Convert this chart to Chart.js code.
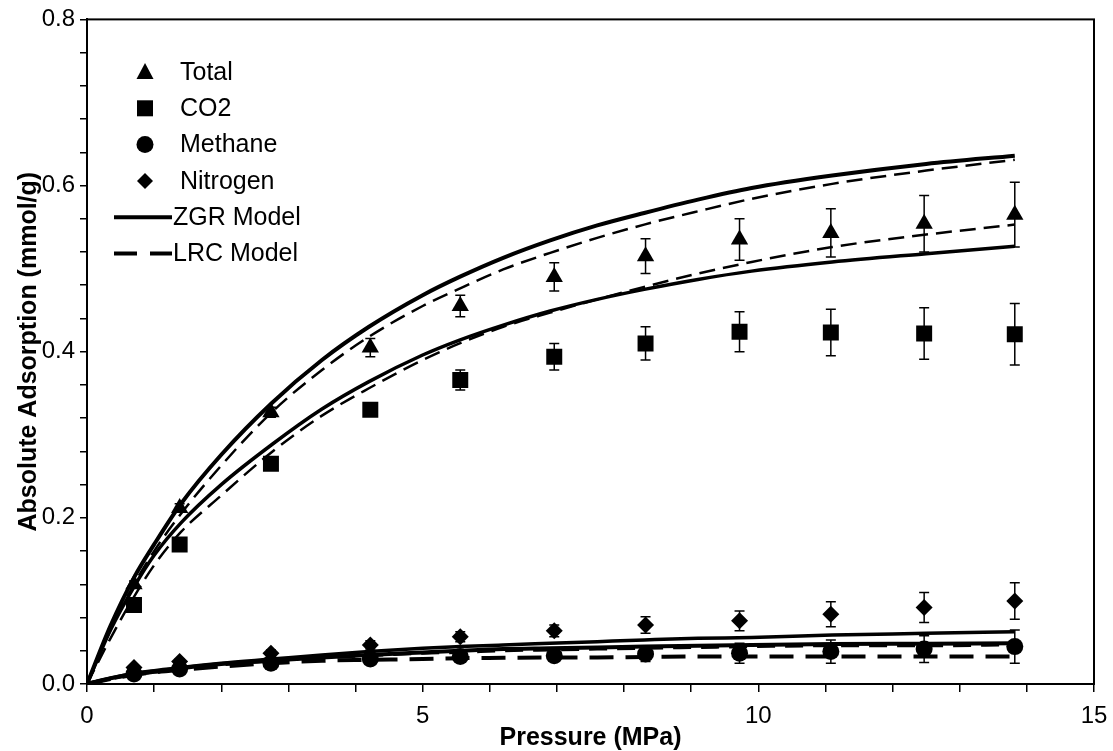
<!DOCTYPE html>
<html lang="en">
<head>
<meta charset="UTF-8">
<title>Absolute Adsorption</title>
<script src="https://cdn.jsdelivr.net/npm/chart.js@4.4.0/dist/chart.umd.min.js"></script>
<style>
    body { margin: 0; background: #fff; }
    #wrap { width: 1113px; height: 751px; }
</style>
</head>
<body>
<div id="wrap">
    <canvas id="adsChart" width="1113" height="751"></canvas>
</div>
<script>
    // measured points (pressure in MPa)
    const pressure = [0.7, 1.38, 2.74, 4.22, 5.56, 6.96, 8.32, 9.72, 11.08, 12.47, 13.82];
    const totalVals = [0.12, 0.212, 0.327, 0.405, 0.455, 0.49, 0.515, 0.535, 0.543, 0.554, 0.565];
    const totalErr = [0.004, 0.005, 0.006, 0.011, 0.013, 0.017, 0.021, 0.025, 0.029, 0.034, 0.039];
    const co2Vals = [0.095, 0.168, 0.265, 0.33, 0.366, 0.394, 0.41, 0.424, 0.423, 0.422, 0.421];
    const co2Err = [0.003, 0.004, 0.005, 0.006, 0.012, 0.016, 0.02, 0.024, 0.028, 0.031, 0.037];
    const methaneVals = [0.012, 0.018, 0.025, 0.03, 0.033, 0.034, 0.036, 0.037, 0.039, 0.042, 0.045];
    const methaneErr = [0.002, 0.002, 0.003, 0.004, 0.005, 0.006, 0.009, 0.012, 0.014, 0.016, 0.02];
    const nitrogenVals = [0.02, 0.027, 0.037, 0.047, 0.057, 0.064, 0.071, 0.076, 0.084, 0.092, 0.1];
    const nitrogenErr = [0.003, 0.003, 0.004, 0.005, 0.006, 0.007, 0.01, 0.012, 0.015, 0.018, 0.022];

    const modelP = [0, 0.35, 0.7, 1.0, 1.4, 2.0, 2.75, 3.5, 4.2, 5.0, 5.55, 6.2, 6.9, 7.6, 8.3, 9.1, 9.9, 11.1, 12.5, 13.82];
    const zgrTotal = [0, 0.07, 0.128, 0.168, 0.217, 0.276, 0.338, 0.39, 0.43, 0.468, 0.49, 0.513, 0.534, 0.552, 0.567, 0.583, 0.597, 0.612, 0.626, 0.636];
    const lrcTotal = [0, 0.065, 0.12, 0.16, 0.205, 0.263, 0.327, 0.378, 0.418, 0.455, 0.476, 0.499, 0.519, 0.537, 0.553, 0.569, 0.584, 0.602, 0.618, 0.631];
    const zgrCO2 = [0, 0.065, 0.117, 0.155, 0.194, 0.24, 0.288, 0.331, 0.364, 0.396, 0.414, 0.432, 0.449, 0.463, 0.475, 0.487, 0.497, 0.508, 0.518, 0.527];
    const lrcCO2 = [0, 0.055, 0.105, 0.143, 0.183, 0.227, 0.279, 0.323, 0.356, 0.39, 0.41, 0.43, 0.447, 0.463, 0.478, 0.494, 0.508, 0.526, 0.541, 0.553];
    const zgrN2 = [0, 0.007, 0.013, 0.016, 0.02, 0.025, 0.03, 0.035, 0.039, 0.043, 0.045, 0.047, 0.049, 0.051, 0.053, 0.055, 0.056, 0.059, 0.061, 0.063];
    const zgrCH4 = [0, 0.007, 0.012, 0.015, 0.019, 0.024, 0.028, 0.032, 0.035, 0.038, 0.04, 0.042, 0.043, 0.044, 0.045, 0.046, 0.047, 0.048, 0.0485, 0.049];
    const lrcN2 = [0, 0.006, 0.011, 0.014, 0.018, 0.023, 0.028, 0.032, 0.034, 0.037, 0.038, 0.04, 0.041, 0.042, 0.043, 0.044, 0.045, 0.046, 0.046, 0.047];
    const lrcCH4 = [0, 0.006, 0.011, 0.014, 0.017, 0.021, 0.025, 0.028, 0.029, 0.03, 0.031, 0.0315, 0.032, 0.032, 0.0325, 0.033, 0.033, 0.033, 0.033, 0.033];

    const legendItems = ['Total', 'CO2', 'Methane', 'Nitrogen', 'ZGR Model', 'LRC Model'];

    const FONT = "'Liberation Sans', Arial, sans-serif";

    function pts(xs, ys) {
        return xs.map((x, i) => ({ x: x, y: ys[i] }));
    }

    function markerSet(label, ys, errs, style, radius) {
        return {
            type: 'scatter',
            label: label,
            data: pts(pressure, ys),
            errors: errs,
            pointStyle: style,
            pointRadius: radius,
            pointBackgroundColor: '#000',
            pointBorderColor: '#000',
            pointBorderWidth: 0,
            order: 0
        };
    }

    function modelLine(label, ys, dashed, width, dash) {
        return {
            type: 'line',
            label: label,
            data: pts(modelP, ys),
            borderColor: '#000',
            borderWidth: width,
            borderDash: dashed ? dash : [],
            pointRadius: 0,
            cubicInterpolationMode: 'monotone',
            fill: false,
            order: 1
        };
    }

    // error bars with caps
    const errorBars = {
        id: 'errorBars',
        afterDatasetsDraw(chart) {
            const { ctx, scales: { x, y } } = chart;
            ctx.save();
            ctx.strokeStyle = '#000';
            ctx.lineWidth = 1.5;
            chart.data.datasets.forEach(ds => {
                if (!ds.errors) return;
                ds.data.forEach((p, i) => {
                    const e = ds.errors[i];
                    const px = x.getPixelForValue(p.x);
                    const top = y.getPixelForValue(p.y + e);
                    const bot = y.getPixelForValue(p.y - e);
                    ctx.beginPath();
                    ctx.moveTo(px, top); ctx.lineTo(px, bot);
                    ctx.moveTo(px - 5, top); ctx.lineTo(px + 5, top);
                    ctx.moveTo(px - 5, bot); ctx.lineTo(px + 5, bot);
                    ctx.stroke();
                });
            });
            ctx.restore();
        }
    };

    // frame round the plot + legend inside the plot area
    const frameAndLegend = {
        id: 'frameAndLegend',
        afterDraw(chart) {
            const { ctx, chartArea: a } = chart;
            ctx.save();
            ctx.strokeStyle = '#000';
            ctx.lineWidth = 2;
            ctx.strokeRect(a.left, a.top, a.right - a.left, a.bottom - a.top);

            const mx = 145, tx = 180, y0 = 72, dy = 36.3;
            ctx.fillStyle = '#000';
            ctx.font = '25px ' + FONT;
            ctx.textBaseline = 'middle';
            legendItems.forEach((txt, i) => {
                const yy = y0 + i * dy;
                ctx.beginPath();
                if (i === 0) {
                    ctx.moveTo(mx, yy - 9); ctx.lineTo(mx + 8.5, yy + 7); ctx.lineTo(mx - 8.5, yy + 7);
                    ctx.closePath(); ctx.fill();
                } else if (i === 1) {
                    ctx.fillRect(mx - 8, yy - 8, 16, 16);
                } else if (i === 2) {
                    ctx.arc(mx, yy, 8.5, 0, Math.PI * 2); ctx.fill();
                } else if (i === 3) {
                    ctx.moveTo(mx, yy - 8); ctx.lineTo(mx + 8, yy); ctx.lineTo(mx, yy + 8); ctx.lineTo(mx - 8, yy);
                    ctx.closePath(); ctx.fill();
                } else {
                    ctx.lineWidth = 4;
                    ctx.setLineDash(i === 5 ? [23, 13] : []);
                    ctx.moveTo(114, yy); ctx.lineTo(172, yy);
                    ctx.stroke();
                    ctx.setLineDash([]);
                }
                ctx.fillText(txt, i >= 4 ? 173 : tx, yy + 1);
            });
            ctx.restore();
        }
    };

    const ctx = document.getElementById('adsChart').getContext('2d');
    new Chart(ctx, {
        data: {
            datasets: [
                markerSet('Total', totalVals, totalErr, 'triangle', 10),
                markerSet('CO2', co2Vals, co2Err, 'rect', 11.3),
                markerSet('Methane', methaneVals, methaneErr, 'circle', 8.5),
                markerSet('Nitrogen', nitrogenVals, nitrogenErr, 'rectRot', 8.5),
                modelLine('ZGR Total', zgrTotal, false, 4),
                modelLine('LRC Total', lrcTotal, true, 2.5, [16, 8]),
                modelLine('ZGR CO2', zgrCO2, false, 3.5),
                modelLine('LRC CO2', lrcCO2, true, 2.5, [16, 8]),
                modelLine('ZGR Nitrogen', zgrN2, false, 3.5),
                modelLine('ZGR Methane', zgrCH4, false, 4),
                modelLine('LRC Nitrogen', lrcN2, true, 3, [18, 10]),
                modelLine('LRC Methane', lrcCH4, true, 4, [24, 12])
            ]
        },
        options: {
            responsive: false,
            animation: false,
            layout: { padding: { left: 0, top: 19, right: 19, bottom: 0 } },
            plugins: {
                legend: { display: false },
                tooltip: { enabled: false }
            },
            scales: {
                x: {
                    type: 'linear',
                    min: 0,
                    max: 15,
                    afterFit(scale) {
                        scale.height = 67;
                        scale.paddingRight = 0;
                        scale.paddingLeft = 0;
                    },
                    border: { display: true, color: '#000', width: 2 },
                    grid: { drawOnChartArea: false, drawTicks: true, tickLength: 8, color: '#000', lineWidth: 1.5 },
                    ticks: {
                        stepSize: 1,
                        color: '#000',
                        padding: 10,
                        maxRotation: 0,
                        autoSkip: false,
                        font: { family: FONT, size: 24 },
                        callback: v => (v % 5 === 0 ? String(v) : '')
                    },
                    title: {
                        display: true,
                        text: 'Pressure (MPa)',
                        color: '#000',
                        padding: { top: 0, bottom: 0 },
                        font: { family: FONT, size: 25, weight: 'bold', lineHeight: 1 }
                    }
                },
                y: {
                    type: 'linear',
                    min: 0,
                    max: 0.8,
                    afterFit(scale) { scale.width = 87; },
                    border: { display: true, color: '#000', width: 2 },
                    grid: { drawOnChartArea: false, drawTicks: true, tickLength: 7, color: '#000', lineWidth: 1.5 },
                    ticks: {
                        stepSize: 0.04,
                        color: '#000',
                        padding: 5,
                        autoSkip: false,
                        font: { family: FONT, size: 24 },
                        callback: v => {
                            const k = v * 5;
                            return Math.abs(k - Math.round(k)) < 1e-6 ? v.toFixed(1) : '';
                        }
                    },
                    title: {
                        display: true,
                        text: 'Absolute Adsorption (mmol/g)',
                        color: '#000',
                        padding: { top: 17, bottom: 0 },
                        font: { family: FONT, size: 25, weight: 'bold', lineHeight: 1 }
                    }
                }
            }
        },
        plugins: [errorBars, frameAndLegend]
    });
</script>
</body>
</html>
